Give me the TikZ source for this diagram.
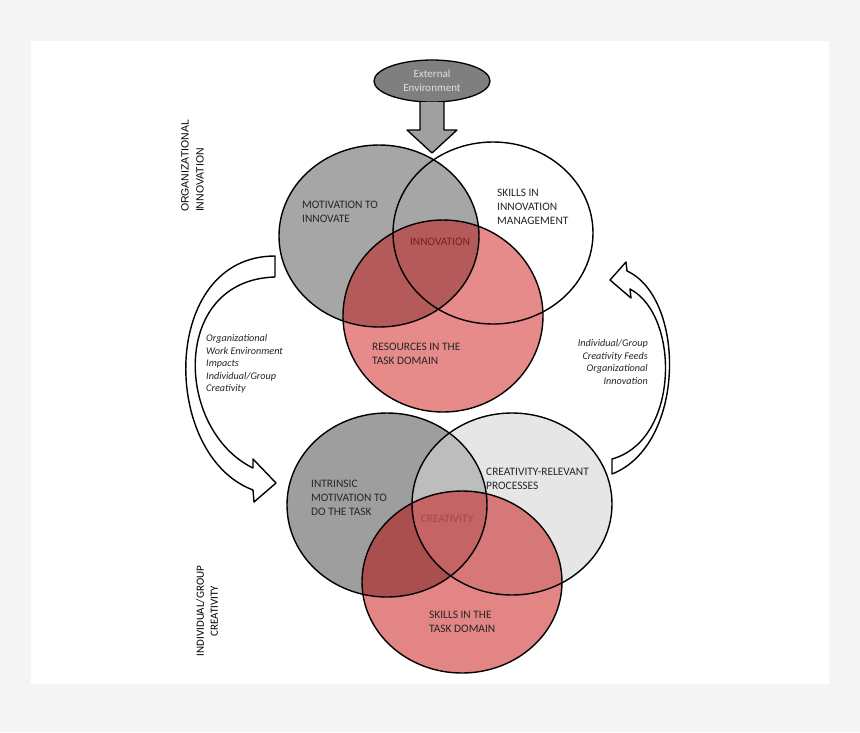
\documentclass[tikz,border=0pt]{standalone}
\usepackage{fontspec}
\usetikzlibrary{shapes.geometric}
\setmainfont{Carlito}
\newfontfamily\arialf{Liberation Sans}
\begin{document}
\begin{tikzpicture}[x=1pt,y=-1pt,line join=round]
\definecolor{bgc}{HTML}{F4F4F4}
\definecolor{gA}{HTML}{A6A6A6}
\definecolor{redc}{HTML}{E68A8A}
\definecolor{redgray}{HTML}{B55A5A}
\definecolor{gA2}{HTML}{9E9E9E}
\definecolor{gB2}{HTML}{E6E6E6}
\definecolor{gAB2}{HTML}{BDBDBD}
\definecolor{redc2}{HTML}{E48585}
\definecolor{redA2}{HTML}{AB4E4E}
\definecolor{redB2}{HTML}{D67878}
\definecolor{redAB2}{HTML}{C46464}
\definecolor{txt}{HTML}{262626}
\definecolor{innov}{HTML}{7E1E1E}
\definecolor{creat}{HTML}{A34A4A}
\definecolor{envfill}{HTML}{7F7F7F}
\definecolor{arrfill}{HTML}{A0A0A0}
\tikzset{
  circ/.style={draw=black,line width=1.4pt},
  lab/.style={inner sep=0pt,font=\fontsize{11.4}{14}\selectfont,text=txt,align=left},
  itlab/.style={inner sep=0pt,font=\fontsize{10.2}{12.6}\selectfont\itshape,text=txt},
  hollow/.style={draw=black,line width=1.4pt,fill=white},
}
\useasboundingbox (0,0) rectangle (860,732);
\fill[bgc] (0,0) rectangle (860,732);
\fill[white] (31,41) rectangle (829,684);
% circle definitions
\def\cA{(379,236) ellipse [x radius=100, y radius=91]}
\def\cB{(493,233) ellipse [x radius=100, y radius=91]}
\def\cC{(443,316) ellipse [x radius=100, y radius=96]}
\def\dA{(387,505) ellipse [x radius=100, y radius=92]}
\def\dB{(512,504) ellipse [x radius=100, y radius=91]}
\def\dC{(462,582) ellipse [x radius=100, y radius=91]}
% top venn
\fill[gA] \cA;
\fill[redc] \cC;
\begin{scope}\clip \cA; \fill[redgray] \cC;\end{scope}
\draw[circ] \cA; \draw[circ] \cB; \draw[circ] \cC;
% bottom venn
\fill[gA2] \dA;
\fill[gB2] \dB;
\begin{scope}\clip \dA; \fill[gAB2] \dB;\end{scope}
\fill[redc2] \dC;
\begin{scope}\clip \dC; \fill[redA2] \dA; \fill[redB2] \dB;
  \clip \dA; \fill[redAB2] \dB;\end{scope}
\draw[circ] \dA; \draw[circ] \dB; \draw[circ] \dC;
% external environment
\node[ellipse,draw=black,line width=1.3pt,fill=envfill,minimum width=116pt,minimum height=42pt,inner sep=0pt,
  font=\fontsize{11}{14}\selectfont,text=white!88!black,align=center] (env) at (432,81) {External\\Environment};
\coordinate (tip) at (432,153);
\draw[line width=1.3pt,fill=arrfill] (420,102) -- (420,130) -- (407,130) -- (tip) -- (457,130) -- (444,130) -- (444,102);
% curved arrows
\draw[hollow] (275,256) .. controls (160,256) and (160,455) .. (253,490)
  -- (254,502) -- (276,483) -- (253,459) -- (253,468)
  .. controls (175,430) and (170,280) .. (275,277) -- cycle;
\draw[hollow] (612,459) -- (612,474) .. controls (686,445) and (686,298) .. (627,271)
  -- (626,262) -- (610,280) -- (631,298) -- (630,289)
  .. controls (680,315) and (680,440) .. (612,459) -- cycle;
% labels
\node[lab,anchor=west] (mot) at (302,212) {MOTIVATION TO\\INNOVATE};
\node[lab,anchor=west] (skm) at (497,207) {SKILLS IN\\INNOVATION\\MANAGEMENT};
\node[lab,text=innov] (inn) at (440,242) {INNOVATION};
\node[lab,anchor=west] (res) at (372,354) {RESOURCES IN THE\\TASK DOMAIN};
\node[lab,anchor=west] (intr) at (311,498) {INTRINSIC\\MOTIVATION TO\\DO THE TASK};
\node[lab,anchor=west] (crp) at (486,479) {CREATIVITY-RELEVANT\\PROCESSES};
\node[lab,text=creat] (cre) at (447,519) {CREATIVITY};
\node[lab,anchor=west] (std) at (429,622) {SKILLS IN THE\\TASK DOMAIN};
\node[itlab,anchor=west,align=left] (lt) at (206,364) {Organizational\\Work Environment\\Impacts\\Individual/Group\\Creativity};
\node[itlab,anchor=east,align=right] (rt) at (648,362) {Individual/Group\\Creativity Feeds\\Organizational\\Innovation};
\node[inner sep=0pt,rotate=90,align=left,font=\arialf\fontsize{10.5}{15}\selectfont,text=black] (org) at (192.5,166) {ORGANIZATIONAL\\INNOVATION};
\node[inner sep=0pt,rotate=90,align=center,font=\fontsize{11}{14}\selectfont,text=black] (ind) at (207,611) {INDIVIDUAL/GROUP\\CREATIVITY};
\end{tikzpicture}
\end{document}
